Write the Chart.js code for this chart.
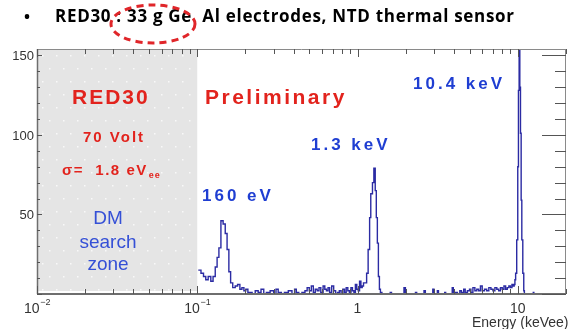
<!DOCTYPE html>
<html>
<head>
<meta charset="utf-8">
<script src="https://cdn.jsdelivr.net/npm/chart.js@4.4.1/dist/chart.umd.min.js"></script>
<style>
  html, body { margin: 0; padding: 0; background: #fff; }
  #wrap { position: relative; width: 568px; height: 329px; }
</style>
</head>
<body>
<div id="wrap"><canvas id="spectrum" width="568" height="329"></canvas></div>
<script>
// energy histogram, left edge of each bin in keVee (last edge closes the final bin)
const binEdges = [
  0.1015, 0.1055, 0.1094, 0.113, 0.117, 0.1215, 0.1255, 0.1295, 0.133, 0.1365,
  0.1405, 0.145, 0.1495, 0.1535, 0.1575, 0.1615, 0.1665, 0.1725, 0.1785, 0.1845,
  0.19, 0.1955, 0.201, 0.207,
  0.212, 0.22, 0.23, 0.24, 0.25, 0.26, 0.27, 0.285, 0.3, 0.31, 0.32, 0.335, 0.35,
  0.37, 0.39, 0.405, 0.415, 0.43, 0.45, 0.47, 0.485, 0.5, 0.515, 0.53, 0.545,
  0.56, 0.575, 0.59, 0.61, 0.625, 0.64, 0.655, 0.67, 0.69, 0.71, 0.73, 0.75,
  0.77, 0.79, 0.81, 0.83, 0.85, 0.87, 0.89, 0.91, 0.93, 0.95, 0.97, 0.99, 1.01,
  1.03, 1.05, 1.07, 1.09,
  1.1, 1.14, 1.165, 1.19, 1.21, 1.24, 1.265, 1.29, 1.31, 1.33, 1.35, 1.37, 1.39,
  1.42, 1.6, 1.63, 1.95, 1.99, 2.3, 2.34, 2.6, 2.65, 2.95, 3.0, 3.15, 3.2, 3.5,
  3.55, 3.9, 3.96, 4.2, 4.35, 4.45, 4.6, 4.7, 4.85, 5.0, 5.1, 5.25, 5.4, 5.55,
  5.7, 5.85, 6.0, 6.2, 6.4, 6.6, 6.8, 7.0, 7.2, 7.4, 7.6, 7.8, 8.0, 8.2, 8.4,
  8.6, 8.8, 9.0, 9.2, 9.35,
  9.5, 9.6, 9.7, 9.85, 10.0, 10.1, 10.2, 10.3, 10.4, 10.5, 10.6, 10.75, 10.9,
  11.0, 12.5, 12.6, 20
];
const counts = [
  15, 13, 11, 9, 11, 8, 11, 17, 23, 29,
  46, 44, 38, 28, 14, 7, 4, 5, 6, 3,
  4, 2, 3, 1,
  1, 0, 2, 1, 3, 0, 1, 2, 0, 3, 1, 0, 1,
  2, 0, 3, 1, 0, 1, 2, 4, 2, 5, 1, 3,
  2, 4, 1, 5, 3, 2, 4, 1, 5, 2, 0, 1,
  2, 0, 3, 1, 4, 2, 1, 4, 2, 1, 6, 3, 2,
  8, 4, 5, 7,
  7, 13, 28, 48, 63, 70, 79, 65, 48, 32, 11, 3, 1,
  0, 1, 0, 4, 0, 1, 0, 2, 0, 3, 0, 2, 0, 1,
  0, 4, 1, 0, 2, 1, 3, 1, 2, 3, 1, 4, 2, 3,
  2, 5, 2, 3, 2, 4, 3, 2, 4, 3, 2, 4, 3, 5, 3,
  4, 5, 4, 6, 5,
  6, 9, 13, 34, 80, 128, 185, 130, 101, 59, 34, 13, 2,
  0, 1, 0
];

// axis labels
const xTickValues = [0.01, 0.1, 1, 10];
const xTickBase = ['10', '10', '1', '10'];
const xTickExp = ['\u22122', '\u22121', '', ''];
const yTickLabels = [50, 100, 150];
const xTitle = 'Energy (keVee)';
const heading = 'RED30 : 33 g Ge  Al electrodes, NTD thermal sensor';

const SANS = '"Liberation Sans", Arial, sans-serif';
const HEAD = '"Open Sans", "Liberation Sans", sans-serif';
const RED = '#e2231d';
const BLUE = '#1f3ed2';

const points = binEdges.map((e, i) => ({ x: e, y: i < counts.length ? counts[i] : 0 }));

// text with its vertical middle at y (cap height based)
function label(ctx, text, x, y, size, opts) {
  opts = opts || {};
  ctx.save();
  ctx.font = (opts.weight || 'bold') + ' ' + size + 'px ' + (opts.family || SANS);
  ctx.fillStyle = opts.color || '#000';
  ctx.textAlign = opts.align || 'left';
  ctx.textBaseline = 'alphabetic';
  let spacing = opts.spacing || 0;
  if (opts.width) {
    // spread the letters so the run covers the given width
    const w0 = ctx.measureText(text).width;
    spacing = (opts.width - w0) / Math.max(1, text.length - 1);
  }
  if ('letterSpacing' in ctx) ctx.letterSpacing = spacing + 'px';
  ctx.fillText(text, x, y + size * 0.36);
  const w = ctx.measureText(text).width;
  ctx.restore();
  return w;
}

// grey band marking the dark-matter search region
const searchZone = {
  id: 'searchZone',
  beforeDatasetsDraw(chart) {
    const { ctx, chartArea: a, scales: { x } } = chart;
    const xr = x.getPixelForValue(0.1);
    ctx.save();
    ctx.fillStyle = '#e5e5e5';
    ctx.fillRect(a.left, a.top, xr - a.left, a.bottom - a.top - 3);
    ctx.fillStyle = 'rgba(255,255,255,0.75)';
    for (let yy = a.top + 6, r = 0; yy < a.bottom - 4; yy += 13, r++) {
      for (let xx = a.left + 5 + (r % 2) * 7; xx < xr - 2; xx += 14) {
        ctx.fillRect(xx, yy, 1.5, 1.5);
      }
    }
    ctx.restore();
  }
};

// frame, inward ticks, axis labels and the annotations
const decorations = {
  id: 'decorations',
  afterDatasetsDraw(chart) {
    const { ctx, chartArea: a, scales: { x, y } } = chart;
    ctx.save();

    // frame
    ctx.strokeStyle = '#8a8a8a';
    ctx.lineWidth = 1;
    ctx.beginPath();
    ctx.moveTo(a.left, a.top + 0.5); ctx.lineTo(a.right, a.top + 0.5);
    ctx.moveTo(a.right - 0.5, a.top); ctx.lineTo(a.right - 0.5, a.bottom);
    ctx.stroke();
    ctx.strokeStyle = '#6e6e6e';
    ctx.lineWidth = 1.5;
    ctx.beginPath();
    ctx.moveTo(a.left + 0.5, a.top); ctx.lineTo(a.left + 0.5, a.bottom);
    ctx.stroke();
    ctx.lineWidth = 2.2;
    ctx.beginPath();
    ctx.moveTo(a.left, a.bottom); ctx.lineTo(a.right, a.bottom);
    ctx.stroke();

    // x ticks: every integer multiple within each decade of the log range
    ctx.lineWidth = 1;
    ctx.strokeStyle = '#555';
    ctx.beginPath();
    for (let d = Math.floor(Math.log10(x.min)); d <= Math.log10(x.max); d++) {
      for (let m = 1; m <= 9; m++) {
        const v = m * Math.pow(10, d);
        if (v < x.min || v > x.max) continue;
        const px = Math.round(x.getPixelForValue(v)) + 0.5;
        const len = m === 1 ? 8 : 5;
        ctx.moveTo(px, a.bottom); ctx.lineTo(px, a.bottom - len);
        ctx.moveTo(px, a.top); ctx.lineTo(px, a.top + len);
      }
    }
    // y ticks every 10 counts, short on the left, long on the right
    for (let v = 0; v <= y.max; v += 10) {
      const py = Math.round(y.getPixelForValue(v)) + 0.5;
      const major = v % 50 === 0;
      ctx.moveTo(a.left, py); ctx.lineTo(a.left + (major ? 5 : 3), py);
      ctx.moveTo(a.right, py); ctx.lineTo(a.right - (major ? 24 : 11), py);
    }
    ctx.stroke();

    // y tick labels
    yTickLabels.forEach(v => {
      label(ctx, String(v), a.left - 3, y.getPixelForValue(v), 13, { weight: 'normal', color: '#333', align: 'right' });
    });

    // x tick labels with superscript exponents
    xTickValues.forEach((v, i) => {
      const px = x.getPixelForValue(v);
      ctx.font = '14px ' + SANS;
      const wb = ctx.measureText(xTickBase[i]).width;
      ctx.font = '9px ' + SANS;
      const we = xTickExp[i] ? ctx.measureText(xTickExp[i]).width : 0;
      const x0 = px - (wb + we) / 2;
      label(ctx, xTickBase[i], x0, 308, 14, { weight: 'normal', color: '#333' });
      if (xTickExp[i]) label(ctx, xTickExp[i], x0 + wb + 0.5, 302, 9, { weight: 'normal', color: '#333' });
    });
    label(ctx, xTitle, 472, 322, 14, { weight: 'normal', color: '#333' });

    // run annotations
    label(ctx, 'RED30', 72, 96, 21, { color: RED, spacing: 2 });
    label(ctx, 'Preliminary', 205, 96, 21, { color: RED, spacing: 2.5 });
    label(ctx, '70 Volt', 83, 137, 15, { color: RED, spacing: 2 });
    const ws = label(ctx, '\u03c3=  1.8 eV', 62, 170, 15, { color: RED, spacing: 1.5 });
    label(ctx, 'ee', 62 + ws + 1, 175, 9, { color: RED, spacing: 1 });

    label(ctx, 'DM', 108, 217, 19, { weight: 'normal', color: '#3550d6', align: 'center' });
    label(ctx, 'search', 108, 241, 19, { weight: 'normal', color: '#3550d6', align: 'center' });
    label(ctx, 'zone', 108, 263, 19, { weight: 'normal', color: '#3550d6', align: 'center' });

    label(ctx, '160 eV', 202, 195, 17, { color: BLUE, spacing: 3 });
    label(ctx, '1.3 keV', 311, 144, 17, { color: BLUE, spacing: 3 });
    label(ctx, '10.4 keV', 413, 83, 17, { color: BLUE, spacing: 3 });

    // heading line above the plot, with the detector mass circled
    label(ctx, '\u2022', 24, 16, 16, { family: HEAD });
    label(ctx, heading, 55, 16, 17, { family: HEAD, width: 459 });

    ctx.strokeStyle = '#e0262a';
    ctx.lineWidth = 3;
    ctx.setLineDash([7, 5]);
    ctx.beginPath();
    ctx.ellipse(153, 24, 42, 19, 0, 0, Math.PI * 2);
    ctx.stroke();
    ctx.restore();
  }
};

const ctx = document.getElementById('spectrum').getContext('2d');
new Chart(ctx, {
  type: 'line',
  data: {
    datasets: [{
      data: points,
      stepped: true,
      borderColor: '#2b2ba3',
      borderWidth: 1.4,
      pointRadius: 0,
      fill: false
    }]
  },
  options: {
    responsive: false,
    animation: false,
    layout: { padding: { top: 49, right: 2, left: 0, bottom: 0 } },
    plugins: { legend: { display: false }, tooltip: { enabled: false } },
    scales: {
      x: {
        type: 'logarithmic',
        min: 0.01,
        max: 20,
        grid: { display: false, drawTicks: false },
        border: { display: false },
        ticks: { display: false },
        afterFit: s => { s.height = 35; }
      },
      y: {
        min: 0,
        max: 154,
        grid: { display: false, drawTicks: false },
        border: { display: false },
        ticks: { display: false },
        afterFit: s => { s.width = 37; }
      }
    }
  },
  plugins: [searchZone, decorations]
});
</script>
</body>
</html>
